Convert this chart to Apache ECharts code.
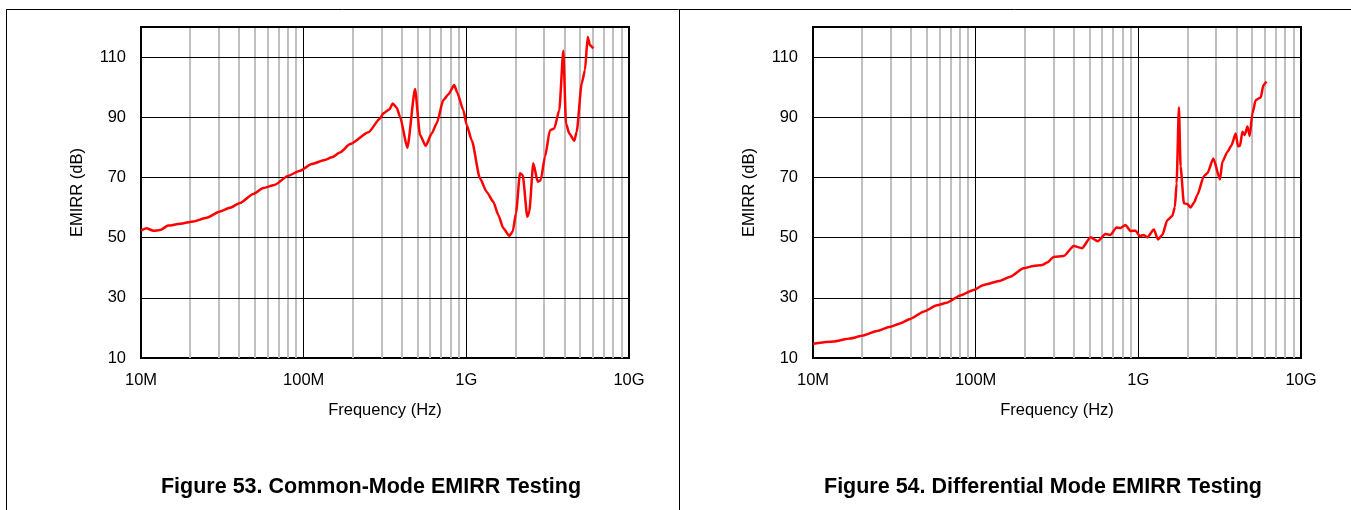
<!DOCTYPE html>
<html>
<head>
<meta charset="utf-8">
<script src="https://cdn.jsdelivr.net/npm/echarts@6/dist/echarts.min.js"></script>
<style>
html,body{margin:0;padding:0;background:#fff;}
#c{width:1351px;height:510px;}
</style>
</head>
<body>
<div id="c"></div>
<script>
// Figure 53: Common-mode EMIRR (frequency in MHz, EMIRR in dB)
const cmFreqMHz = [10, 10.8, 11.9, 13.1, 14.7, 17.4, 21.0, 25.3, 30.6, 35.2, 40.6, 49.0, 56.5, 66.7, 80.4, 94.9, 112, 135, 149, 167, 193, 250, 295, 309, 336, 353, 373, 391, 434, 484, 519, 563, 612, 658, 722, 775, 843, 880, 958, 1005, 1079, 1213, 1334, 1465, 1572, 1688, 1838, 1928, 2020, 2137, 2221, 2371, 2438, 2580, 2747, 2865, 3045, 3268, 3473, 3729, 3946, 4100, 4296, 4610, 4768, 5120, 5363, 5572, 5758, 6034];
const cmDb = [52.3, 53.1, 52.3, 52.5, 54.0, 54.6, 55.4, 56.6, 58.7, 59.9, 61.5, 64.5, 66.5, 67.6, 70.6, 72.2, 74.5, 75.8, 76.7, 78.3, 81.1, 85.0, 89.6, 91.3, 92.6, 94.6, 93.2, 90.2, 79.9, 99.4, 84.1, 80.5, 84.6, 88.0, 95.7, 97.6, 100.7, 98.1, 92.4, 87.4, 82.4, 69.7, 65.2, 61.9, 57.5, 53.1, 50.6, 52.0, 58.1, 71.4, 70.8, 56.9, 58.6, 74.7, 68.6, 69.1, 76.9, 85.7, 86.3, 92.4, 112.1, 87.9, 84.6, 82.2, 85.2, 101.3, 105.7, 116.7, 113.9, 112.9];

// Figure 54: Differential-mode EMIRR (frequency in MHz, EMIRR in dB)
const dmFreqMHz = [10, 13.3, 16.9, 20.4, 24.7, 29.8, 34.3, 39.6, 47.8, 57.8, 66.6, 80.4, 97.1, 112, 142, 163, 197, 227, 256, 275, 302, 348, 401, 451, 508, 563, 628, 674, 734, 777, 834, 895, 961, 1021, 1081, 1134, 1246, 1319, 1404, 1507, 1618, 1678, 1719, 1776, 1819, 1906, 2000, 2096, 2197, 2306, 2532, 2657, 2892, 3176, 3286, 3527, 3733, 3966, 4100, 4217, 4363, 4508, 4684, 4839, 5027, 5269, 5656, 5876, 6131];
const dmDb = [14.7, 15.5, 16.5, 17.5, 19.0, 20.4, 21.5, 23.0, 25.4, 27.5, 28.4, 30.8, 32.6, 34.3, 35.7, 37.0, 39.8, 40.6, 40.9, 41.7, 43.6, 43.9, 47.2, 46.5, 50.1, 48.8, 51.2, 50.9, 53.4, 53.2, 54.2, 52.2, 52.3, 50.5, 50.9, 50.1, 52.7, 49.4, 50.9, 55.8, 57.2, 60.3, 68.0, 93.3, 73.6, 61.4, 61.2, 60.0, 61.6, 64.2, 70.5, 71.4, 76.3, 69.3, 75.2, 78.5, 80.6, 84.6, 80.4, 80.5, 85.2, 84.1, 86.9, 83.8, 91.3, 95.7, 96.6, 100.7, 101.9];

const xTickLabels = {'10000000': '10M', '100000000': '100M', '1000000000': '1G', '10000000000': '10G'};
const yTicks = [10, 30, 50, 70, 90, 110];
const captions = ['Figure 53. Common-Mode EMIRR Testing', 'Figure 54. Differential Mode EMIRR Testing'];
const xTitle = 'Frequency (Hz)';
const yTitle = 'EMIRR (dB)';

const FONT = '"Liberation Sans", Arial, sans-serif';
const minorVals = [];
for (let e = 7; e < 10; e++) for (let k = 2; k <= 9; k++) minorVals.push(k * Math.pow(10, e));

function pairs(fs, ds) { return fs.map((f, i) => [f * 1e6, ds[i]]); }

function xAxisFor(i) {
  return {
    type: 'log', logBase: 10, gridIndex: i, min: 1e7, max: 1e10, z: 1,
    axisLine: {show: false}, axisTick: {show: false},
    splitLine: {show: true, lineStyle: {color: '#000', width: 1}},
    minorSplitLine: {show: false},
    axisLabel: {
      color: '#000', fontFamily: FONT, fontSize: 16.5, margin: 14,
      formatter: v => xTickLabels[String(Math.round(v))] || ''
    },
    name: xTitle, nameLocation: 'middle', nameGap: 44,
    nameTextStyle: {color: '#000', fontFamily: FONT, fontSize: 16.5}
  };
}
function yAxisFor(i) {
  return {
    type: 'value', gridIndex: i, min: 10, max: 120, interval: 20, z: 1,
    axisLine: {show: false}, axisTick: {show: false},
    splitLine: {show: true, lineStyle: {color: '#000', width: 1}},
    axisLabel: {
      color: '#000', fontFamily: FONT, fontSize: 16.5, margin: 15,
      formatter: v => yTicks.indexOf(v) >= 0 ? String(v) : ''
    },
    name: yTitle, nameLocation: 'middle', nameGap: 55, nameRotate: 90,
    nameTextStyle: {color: '#000', fontFamily: FONT, fontSize: 16.5}
  };
}
function minorSeries(i) {
  return {
    type: 'line', xAxisIndex: i, yAxisIndex: i, data: [], z: 0.5, silent: true,
    markLine: {
      silent: true, z: 0.5, symbol: ['none', 'none'], animation: false,
      label: {show: false},
      lineStyle: {color: '#c0c0c0', width: 2, type: 'solid'},
      data: minorVals.map(v => ({xAxis: v}))
    }
  };
}
function curve(i, data) {
  return {
    type: 'line', xAxisIndex: i, yAxisIndex: i, data: data, z: 6,
    showSymbol: false, symbol: 'none', smooth: 0.2, smoothMonotone: 'x',
    lineStyle: {color: '#ff0000', width: 2.5}, animation: false
  };
}

const chart = echarts.init(document.getElementById('c'), null, {renderer: 'canvas'});
chart.setOption({
  animation: false,
  backgroundColor: '#fff',
  grid: [
    {left: 141, right: 722, top: 27, bottom: 152, show: true, borderColor: '#000', borderWidth: 2, backgroundColor: 'transparent'},
    {left: 813, right: 50, top: 27, bottom: 152, show: true, borderColor: '#000', borderWidth: 2, backgroundColor: 'transparent'}
  ],
  xAxis: [xAxisFor(0), xAxisFor(1)],
  yAxis: [yAxisFor(0), yAxisFor(1)],
  series: [
    minorSeries(0), minorSeries(1),
    curve(0, pairs(cmFreqMHz, cmDb)),
    curve(1, pairs(dmFreqMHz, dmDb))
  ],
  graphic: [
    {type: 'line', shape: {x1: 6, y1: 9.5, x2: 1351, y2: 9.5}, style: {stroke: '#000', lineWidth: 1}},
    {type: 'line', shape: {x1: 6.5, y1: 9, x2: 6.5, y2: 510}, style: {stroke: '#000', lineWidth: 1}},
    {type: 'line', shape: {x1: 679.5, y1: 9, x2: 679.5, y2: 510}, style: {stroke: '#000', lineWidth: 1}},
    {type: 'text', x: 371, y: 487, style: {text: captions[0], font: 'bold 21.5px ' + FONT, fill: '#000', textAlign: 'center', textVerticalAlign: 'middle'}},
    {type: 'text', x: 1043, y: 487, style: {text: captions[1], font: 'bold 21.5px ' + FONT, fill: '#000', textAlign: 'center', textVerticalAlign: 'middle'}}
  ]
});
</script>
</body>
</html>
